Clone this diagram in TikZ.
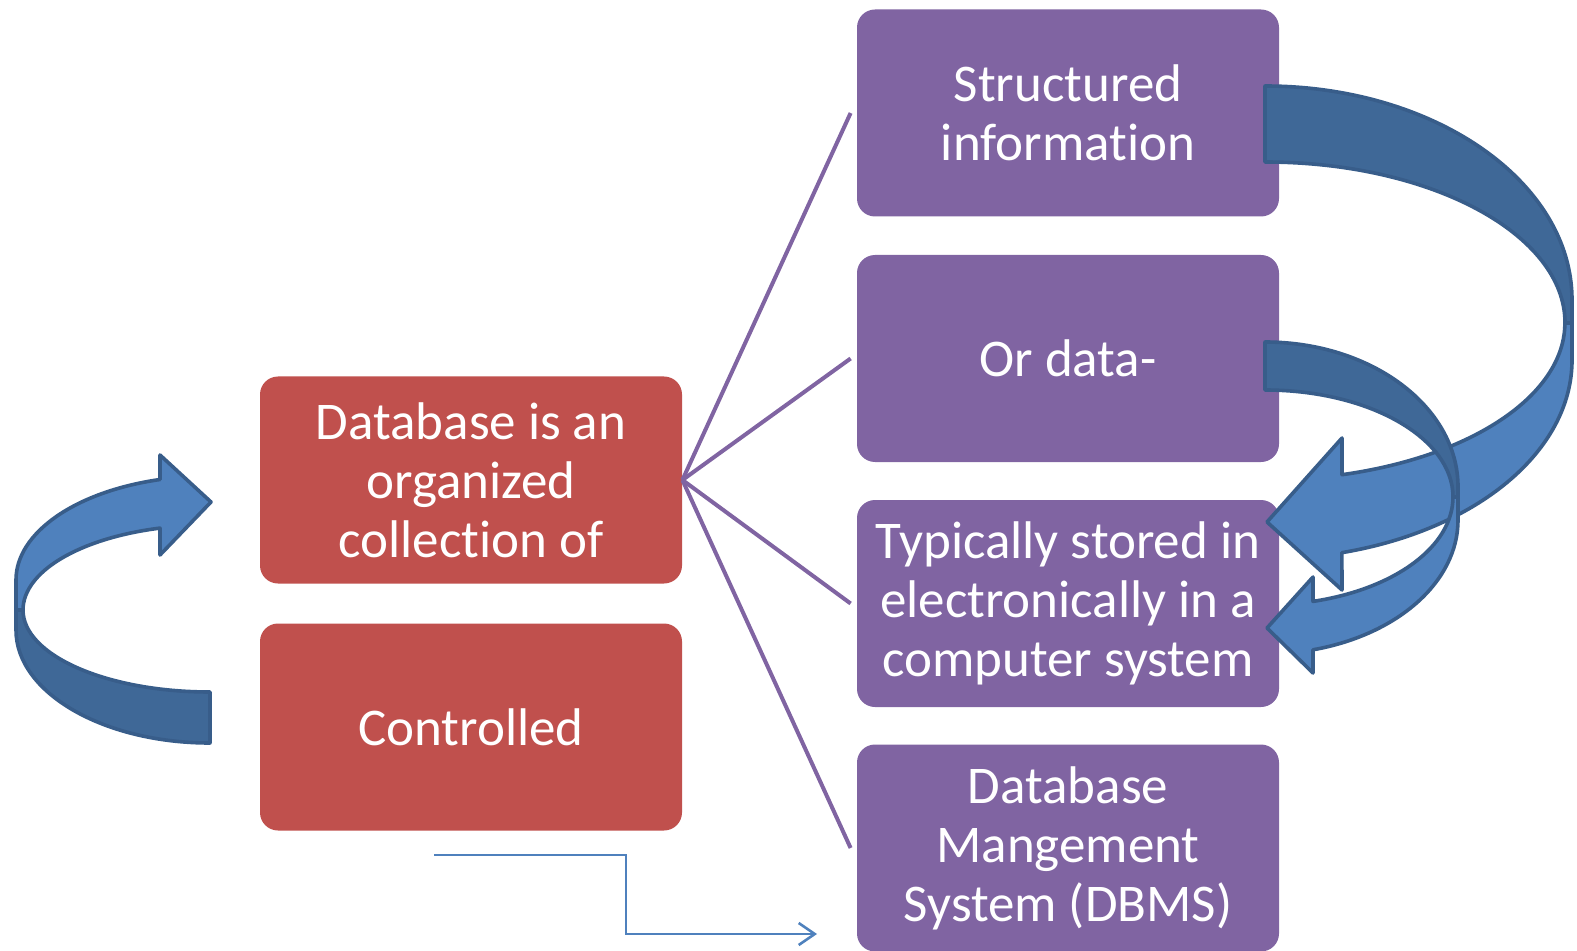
\documentclass[tikz,border=0pt]{standalone}
\usepackage{fontspec}
\setmainfont{Carlito}[Ligatures=NoCommon]
\usetikzlibrary{arrows.meta}

\definecolor{boxred}{HTML}{C0504D}
\definecolor{boxpurple}{HTML}{8064A2}
\definecolor{arrowfront}{HTML}{4F81BD}
\definecolor{arrowback}{HTML}{3F6897}
\definecolor{arrowedge}{HTML}{385D8A}

\tikzset{
  card/.style={rounded corners=9pt, minimum width=211pt, minimum height=103.5pt,
    inner sep=0pt, align=center, text=white,
    font=\fontsize{26.5}{29.5}\selectfont},
  redcard/.style={card, fill=boxred},
  purplecard/.style={card, fill=boxpurple},
  link/.style={draw=boxpurple, line width=2pt},
  elbow/.style={draw=arrowfront, line width=1.3pt,
    -{Straight Barb[length=8pt, width=11pt, line width=1.3pt]}},
  frontface/.style={fill=arrowfront, draw=arrowedge, line width=1.8pt, line join=round},
  backface/.style={fill=arrowback, draw=arrowedge, line width=1.8pt, line join=round}
}

\begin{document}
\begin{tikzpicture}[x=0.5pt, y=-0.5pt]
\useasboundingbox (0,0) rectangle (1577,951);

% boxes
\node[redcard] (r1) at (471,480) {Database is an\\organized\\collection of};
\node[redcard] (r2) at (471,727) {Controlled};
\node[purplecard] (p1) at (1068,113) {Structured\\information};
\node[purplecard] (p2) at (1068,358.5) {Or data-};
\node[purplecard] (p3) at (1068,603.5) {Typically stored in\\electronically in a\\computer system};
\node[purplecard] (p4) at (1068,848) {Database\\Mangement\\System (DBMS)};

% fan of links
\foreach \p in {p1,p2,p3,p4}
  \draw[link] (r1.east) -- ([xshift=-3pt]\p.west);

% elbow connector
\coordinate (c0) at (434,855);
\coordinate (cm) at (626,894);
\coordinate (c1) at (817,934);
\draw[elbow] (c0) -| (cm) |- (c1);

% left curved arrow
\draw[frontface] (16,580) arc[start angle=180, end angle=104.94, x radius=97pt, y radius=52pt]
  -- (160,455) -- (211,502) -- (160,555) -- (160,528.1)
  arc[start angle=105.51, end angle=180, x radius=93.5pt, y radius=42.5pt]
  -- (16,610) -- cycle;
\draw[backface] (23,610) arc[start angle=180, end angle=270, x radius=93.5pt, y radius=41pt]
  -- (210,743) arc[start angle=270, end angle=180, x radius=97pt, y radius=56.5pt]
  -- (16,610) -- cycle;

% large right curved arrow
\draw[backface] (1265,86) arc[start angle=90, end angle=0, x radius=153.5pt, y radius=107pt]
  -- (1572,323) -- (1565,323)
  arc[start angle=0, end angle=90, x radius=150pt, y radius=80.5pt] -- cycle;
\draw[frontface] (1565,323) -- (1572,323) -- (1572,360)
  arc[start angle=0, end angle=-75.5, x radius=153.5pt, y radius=99.5pt]
  -- (1342,590) -- (1267,522) -- (1342,438) -- (1342,474.7)
  arc[start angle=-75.1, end angle=0, x radius=150pt, y radius=78.5pt] -- cycle;

% small right curved arrow
\draw[backface] (1265,342) arc[start angle=90, end angle=0, x radius=96.5pt, y radius=72.5pt]
  -- (1458,497) -- (1453,497)
  arc[start angle=0, end angle=90, x radius=94pt, y radius=53.5pt] -- cycle;
\draw[frontface] (1453,497) -- (1458,497) -- (1458,520)
  arc[start angle=0, end angle=-75.6, x radius=96.5pt, y radius=67pt]
  -- (1313,673) -- (1267,628) -- (1313,577) -- (1313,601.4)
  arc[start angle=-75.2, end angle=0, x radius=94pt, y radius=54pt] -- cycle;
\end{tikzpicture}
\end{document}
